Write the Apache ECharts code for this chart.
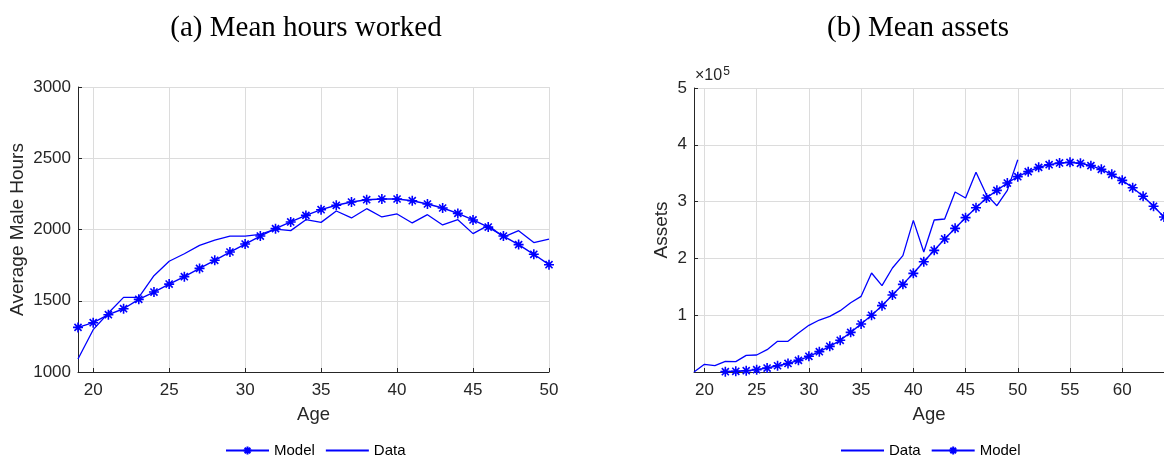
<!DOCTYPE html>
<html>
<head>
<meta charset="utf-8">
<script src="https://cdn.jsdelivr.net/npm/echarts@6/dist/echarts.min.js"></script>
<style type="text/css">
    *{ padding: 0; margin: 0; }
    body{ background: #fff; overflow: hidden; }
    #chart{ width: 1164px; height: 458px; }
</style>
</head>
<body>
<div id="chart"></div>
<script type="text/javascript">
    // (a) hours worked, ages 19..50
    let hoursAges = [19,20,21,22,23,24,25,26,27,28,29,30,31,32,33,34,35,36,37,38,39,40,41,42,43,44,45,46,47,48,49,50];
    let hoursModel = [1313,1346,1402,1444,1510,1561,1617,1669,1727,1784,1842,1898,1954,2006,2053,2099,2139,2170,2193,2209,2214,2214,2202,2179,2151,2113,2067,2017,1954,1894,1826,1753];
    let hoursData = [1091,1297,1414,1524,1524,1676,1777,1830,1889,1926,1954,1954,1966,2003,1992,2069,2050,2130,2081,2146,2088,2109,2046,2104,2032,2069,1971,2029,1947,1992,1908,1933];

    // (b) assets, ages 19..64 (data to 50, model from 22)
    let assetAges = [19,20,21,22,23,24,25,26,27,28,29,30,31,32,33,34,35,36,37,38,39,40,41,42,43,44,45,46,47,48,49,50,51,52,53,54,55,56,57,58,59,60,61,62,63,64];
    let assetData = [0,13500,11200,18800,18200,29300,29900,39300,54000,54000,68700,82200,91500,98000,108000,122000,133200,174300,152000,183100,204800,267000,211300,267600,269400,316900,306300,351500,312200,292800,319800,373800];
    let assetModel = [null,null,null,600,1200,2300,4100,7000,11000,15000,20500,27600,35800,45200,55800,69800,84500,99800,116800,135600,154300,173700,194200,214200,234200,252900,271700,289300,306300,319800,332700,343900,352700,360300,365000,368000,369100,367400,363300,356800,348000,337400,324500,309300,291700,272900];

    let hoursTicks = [1000,1500,2000,2500,3000];
    let assetTicks = [0,1,2,3,4,5];

    let blue = '#0000ff';
    let ink = '#262626';
    let star = 'path://M0,-5L0,5M-5,0L5,0M-3.54,-3.54L3.54,3.54M-3.54,3.54L3.54,-3.54';
    let sans = 'Liberation Sans';

    function everyFive(i, v){ return v % 5 === 0; }

    function xAxisOf(ages, gridIndex){
        return {
            type: 'category', gridIndex: gridIndex, data: ages, boundaryGap: false,
            name: 'Age', nameLocation: 'middle', nameGap: 33,
            nameTextStyle: { fontFamily: sans, fontSize: 18.5, color: ink },
            axisLine: { lineStyle: { color: ink, width: 1 } },
            axisTick: { inside: true, length: 4, interval: everyFive, lineStyle: { color: ink } },
            axisLabel: { interval: everyFive, margin: 10, fontFamily: sans, fontSize: 17, color: ink },
            splitLine: { show: true, interval: everyFive, lineStyle: { color: '#dcdcdc', width: 1 } }
        };
    }

    function yAxisOf(gridIndex, name, gap, min, max, step, fmt){
        return {
            type: 'value', gridIndex: gridIndex, min: min, max: max, interval: step,
            name: name, nameLocation: 'middle', nameGap: gap,
            nameTextStyle: { fontFamily: sans, fontSize: 19, color: ink },
            axisLine: { show: true, lineStyle: { color: ink } },
            axisTick: { show: true, inside: true, length: 4, lineStyle: { color: ink } },
            axisLabel: { margin: 7, fontFamily: sans, fontSize: 17, color: ink, formatter: fmt },
            splitLine: { lineStyle: { color: '#dcdcdc' } }
        };
    }

    let legendText = { fontFamily: sans, fontSize: 15, color: '#000' };
    let noMark = { opacity: 0 };

    let myChart = echarts.init(document.getElementById('chart'));
    let option = {
        animation: false,
        title: [
            { text: '(a) Mean hours worked', left: 301, top: 9, textAlign: 'center',
              textStyle: { fontFamily: 'Liberation Serif', fontSize: 29, fontWeight: 'normal', color: '#000' } },
            { text: '(b) Mean assets', left: 913, top: 9, textAlign: 'center',
              textStyle: { fontFamily: 'Liberation Serif', fontSize: 29, fontWeight: 'normal', color: '#000' } }
        ],
        grid: [
            { left: 78, top: 87, width: 471, height: 285 },
            { left: 694, top: 88, width: 470, height: 284 }
        ],
        graphic: [{
            type: 'text', left: 695, top: 66,
            style: { text: '×10{s|5}', rich: { s: { fontSize: 12, verticalAlign: 'top', fontFamily: sans, fill: ink, padding: [0, 0, 8, 1] } },
                     font: '16px "Liberation Sans"', fill: ink }
        }],
        legend: [
            { left: 225, top: 443, padding: 0, itemWidth: 43, itemHeight: 10, itemGap: 10,
              data: ['Model', { name: 'Data', itemStyle: noMark }], textStyle: legendText },
            { left: 840, top: 443, padding: 0, itemWidth: 43, itemHeight: 10, itemGap: 10,
              data: [{ name: 'Data ', itemStyle: noMark }, 'Model '], textStyle: legendText,
              formatter: function(n){ return n.trim(); } }
        ],
        xAxis: [ xAxisOf(hoursAges, 0), xAxisOf(assetAges, 1) ],
        yAxis: [
            yAxisOf(0, 'Average Male Hours', 51, hoursTicks[0], hoursTicks[hoursTicks.length - 1], 500,
                    function(v){ return String(v); }),
            yAxisOf(1, 'Assets', 23, assetTicks[0] * 1e5, assetTicks[assetTicks.length - 1] * 1e5, 1e5,
                    function(v){ return v === 0 ? '' : String(v / 1e5); })
        ],
        series: [
            { name: 'Model', type: 'line', xAxisIndex: 0, yAxisIndex: 0, data: hoursModel,
              symbol: star, symbolSize: 10, showAllSymbol: true,
              lineStyle: { color: blue, width: 1.4 }, itemStyle: { color: blue, borderColor: blue, borderWidth: 1.6 } },
            { name: 'Data', type: 'line', xAxisIndex: 0, yAxisIndex: 0, data: hoursData,
              symbol: 'none', lineStyle: { color: blue, width: 1.3 }, itemStyle: { color: blue } },
            { name: 'Data ', type: 'line', xAxisIndex: 1, yAxisIndex: 1, data: assetData,
              symbol: 'none', lineStyle: { color: blue, width: 1.3 }, itemStyle: { color: blue } },
            { name: 'Model ', type: 'line', xAxisIndex: 1, yAxisIndex: 1, data: assetModel,
              symbol: star, symbolSize: 10, showAllSymbol: true, clip: false,
              lineStyle: { color: blue, width: 1.4 }, itemStyle: { color: blue, borderColor: blue, borderWidth: 1.6 } }
        ]
    };
    myChart.setOption(option);
</script>
</body>
</html>
